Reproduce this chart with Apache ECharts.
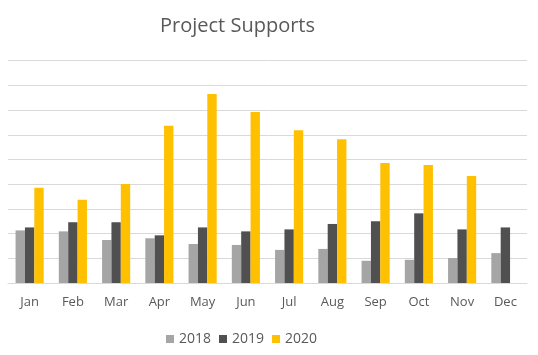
<!DOCTYPE html>
<html>
<head>
<meta charset="utf-8">
<script src="https://cdn.jsdelivr.net/npm/echarts@6/dist/echarts.min.js"></script>
<style>html,body{margin:0;padding:0;background:#fff}#c{width:538px;height:355px}</style>
</head>
<body>
<div id="c"></div>
<script>
var months = ['Jan','Feb','Mar','Apr','May','Jun','Jul','Aug','Sep','Oct','Nov','Dec'];
var s2018 = [21.3,20.9,17.4,18.1,15.8,15.4,13.4,13.8,9.0,9.4,10.1,12.1];
var s2019 = [22.5,24.6,24.6,19.3,22.5,20.9,21.7,23.9,25.0,28.2,21.7,22.5];
var s2020 = [38.6,33.7,40.1,63.7,76.5,69.2,61.8,58.2,48.6,47.8,43.3,null];
var seriesNames = ['2018','2019','2020'];
var colors = ['#A5A5A5','#505050','#FFC000'];
var font = '"Open Sans", sans-serif';
var chart = echarts.init(document.getElementById('c'));
var data = [s2018, s2019, s2020];
chart.setOption({
  animation: false,
  title: {
    text: 'Project Supports', left: 155, top: 11,
    textStyle: {fontFamily: font, fontSize: 20, fontWeight: 'normal', color: '#595959'}
  },
  legend: {
    data: seriesNames, left: 161, top: 327, itemWidth: 8, itemHeight: 8, itemGap: 8,
    icon: 'rect',
    textStyle: {fontFamily: font, fontSize: 14, color: '#595959'}
  },
  grid: {left: 8, right: 11, top: 60.7, bottom: 72},
  xAxis: {
    type: 'category', data: months,
    axisLine: {lineStyle: {color: '#D9D9D9'}},
    axisTick: {show: false},
    axisLabel: {fontFamily: font, fontSize: 13, color: '#595959', margin: 13}
  },
  yAxis: {
    type: 'value', min: 0, max: 90, interval: 10,
    axisLabel: {show: false}, axisLine: {show: false}, axisTick: {show: false},
    splitLine: {lineStyle: {color: '#D9D9D9'}}
  },
  series: seriesNames.map(function(n, i){
    return {name: n, type: 'bar', data: data[i], barGap: '0%', barCategoryGap: '35%',
      itemStyle: {color: colors[i]}};
  })
});
</script>
</body>
</html>
